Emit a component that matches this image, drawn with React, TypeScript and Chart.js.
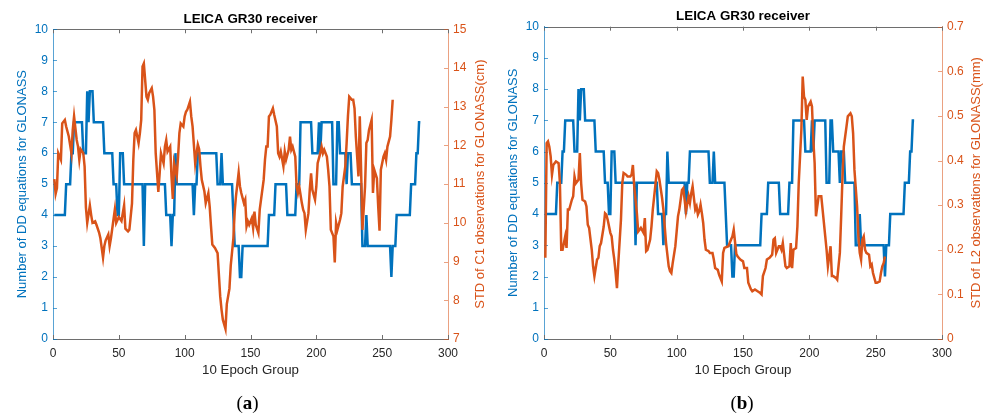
import React, { useEffect, useRef } from "react";
import { Chart, registerables } from "chart.js";

Chart.register(...registerables);

// ---------- data ----------
const ddEpoch = [
  1, 9, 10, 13, 14, 15, 16, 22, 23, 25,
  26, 27, 28, 30, 31, 38, 39, 45, 46, 48,
  49, 50, 51, 53, 54, 68, 69, 70, 85, 86,
  89, 90, 91, 92, 93, 94, 106, 107, 108, 109,
  110, 124, 125, 127, 128, 129, 136, 137, 138, 141,
  142, 143, 144, 163, 164, 168, 169, 177, 178, 184,
  185, 187, 188, 196, 197, 201, 202, 203, 204, 212,
  213, 215, 216, 217, 218, 222, 223, 224, 226, 227,
  234, 235, 237, 238, 239, 256, 257, 258, 260, 261,
  271, 272, 275, 276, 277, 278, 279,
];
const ddCount = [
  4, 4, 5, 5, 6, 6, 7, 7, 6, 6,
  8, 7, 8, 8, 7, 7, 6, 6, 5, 5,
  4, 4, 6, 6, 5, 5, 3, 5, 5, 4,
  4, 3, 4, 4, 6, 5, 5, 4, 5, 5,
  6, 6, 5, 5, 6, 5, 5, 4, 3, 3,
  2, 2, 3, 3, 4, 4, 5, 5, 4, 4,
  5, 5, 7, 7, 6, 6, 7, 6, 7, 7,
  5, 5, 7, 7, 6, 6, 5, 6, 6, 5,
  5, 3, 3, 4, 3, 3, 2, 3, 3, 4,
  4, 5, 5, 6, 6, 7, 7,
];

const c1Epoch = [
  1, 2, 3, 4, 6, 7, 9, 10, 12, 14,
  15, 16, 18, 19, 20, 21, 23, 24, 25, 26,
  28, 29, 30, 32, 33, 35, 36, 38, 39, 40,
  42, 43, 44, 46, 47, 48, 50, 52, 54, 55,
  57, 58, 60, 61, 62, 63, 65, 66, 67, 68,
  69, 71, 72, 73, 75, 76, 77, 78, 80, 81,
  82, 84, 85, 86, 87, 89, 90, 91, 92, 94,
  95, 96, 97, 99, 100, 101, 102, 104, 105, 106,
  108, 109, 110, 111, 112, 113, 115, 116, 118, 119,
  120, 121, 123, 125, 127, 128, 129, 131, 132, 134,
  135, 137, 138, 139, 141, 142, 143, 145, 146, 147,
  148, 149, 151, 152, 153, 154, 156, 157, 158, 160,
  161, 162, 163, 164, 165, 167, 168, 170, 171, 172,
  173, 175, 176, 177, 179, 180, 181, 182, 184, 185,
  186, 187, 189, 190, 191, 192, 194, 195, 196, 197,
  199, 200, 201, 203, 204, 205, 206, 208, 209, 210,
  211, 213, 214, 215, 216, 218, 219, 220, 222, 223,
  224, 225, 227, 228, 229, 230, 232, 233, 234, 235,
  237, 238, 239, 240, 242, 243, 244, 246, 247, 248,
  249, 251, 252, 253, 254, 256, 257, 258,
];
const c1Std = [
  11.13, 10.75, 10.9, 11.8, 11.63, 12.57, 12.66, 12.49, 12.23, 11.8,
  12.4, 12.75, 12.14, 11.97, 11.63, 11.9, 11.8, 11.46, 10.4, 10.0,
  10.45, 10.2, 10.0, 10.04, 9.95, 9.75, 9.6, 9.1, 9.4, 9.55,
  9.7, 9.4, 9.6, 10.1, 10.35, 10.0, 10.15, 10.05, 10.45, 9.85,
  9.78, 9.82, 10.5, 11.63, 12.32, 12.4, 12.06, 12.32, 12.66, 14.04,
  14.12, 13.26, 13.18, 13.35, 13.48, 13.26, 12.92, 11.8, 10.8, 11.28,
  11.8, 11.54, 11.97, 12.14, 11.84, 11.97, 11.2, 10.62, 11.54, 11.2,
  11.71, 12.32, 12.57, 12.49, 12.75, 12.87, 12.92, 13.13, 12.75, 12.49,
  11.54, 11.8, 12.02, 11.9, 11.46, 11.11, 10.81, 10.51, 10.77, 10.42,
  9.91, 9.44, 9.35, 9.22, 8.1, 7.76, 7.5, 7.26, 7.9, 8.3,
  8.9, 9.6, 10.3, 10.7, 11.3, 10.94, 10.77, 10.51, 10.6, 9.91,
  10.04, 9.95, 10.12, 9.87, 10.29, 9.95, 9.74, 10.34, 10.6, 11.11,
  11.63, 11.97, 11.97, 12.75, 12.79, 12.96, 12.79, 12.49, 11.8, 11.71,
  11.84, 11.46, 11.84, 11.63, 11.89, 12.23, 11.89, 11.97, 11.71, 10.94,
  10.77, 10.94, 10.51, 10.34, 10.25, 9.82, 10.25, 10.85, 11.28, 10.85,
  10.6, 10.94, 11.54, 11.8, 11.97, 11.8, 11.89, 11.71, 11.37, 10.94,
  9.82, 9.65, 8.98, 10.0, 9.82, 10.08, 10.25, 10.94, 11.46, 12.06,
  12.75, 13.26, 13.18, 13.18, 12.96, 12.23, 11.2, 12.75, 11.37, 9.82,
  10.94, 12.06, 12.14, 12.4, 12.66, 10.77, 11.37, 11.15, 10.42, 9.8,
  11.37, 11.71, 11.8, 11.63, 11.97, 12.23, 12.66, 13.18,
];

const l2Epoch = [
  1, 2, 3, 4, 5, 6, 7, 9, 11, 12,
  13, 14, 16, 17, 18, 19, 21, 22, 23, 24,
  26, 27, 28, 29, 31, 32, 33, 34, 36, 37,
  38, 40, 41, 42, 43, 45, 46, 47, 48, 50,
  51, 52, 53, 54, 55, 56, 58, 59, 60, 62,
  63, 65, 66, 67, 68, 70, 71, 72, 73, 75,
  76, 77, 78, 80, 81, 82, 84, 85, 86, 87,
  89, 90, 91, 92, 94, 95, 96, 97, 99, 100,
  101, 102, 104, 105, 106, 107, 109, 110, 111, 112,
  114, 115, 116, 117, 118, 119, 120, 121, 122, 124,
  125, 127, 128, 129, 131, 132, 134, 135, 136, 139,
  141, 142, 143, 145, 146, 148, 150, 151, 153, 154,
  156, 157, 159, 161, 163, 164, 165, 167, 168, 170,
  172, 173, 174, 175, 177, 178, 179, 180, 182, 183,
  185, 186, 187, 188, 190, 191, 192, 194, 195, 196,
  197, 198, 199, 201, 202, 203, 204, 205, 207, 209,
  210, 212, 213, 214, 216, 217, 218, 220, 221, 223,
  224, 225, 226, 228, 229, 231, 232, 233, 234, 236,
  237, 238, 239, 240, 241, 242, 243, 245, 246, 247,
  248, 250, 251, 253, 254, 255, 256, 257,
];
const l2Std = [
  0.182, 0.439, 0.443, 0.431, 0.41, 0.368, 0.39, 0.398, 0.394, 0.349,
  0.2, 0.2, 0.23, 0.204, 0.29, 0.29, 0.312, 0.32, 0.364, 0.349,
  0.357, 0.417, 0.349, 0.312, 0.308, 0.297, 0.256, 0.249, 0.2, 0.163,
  0.141, 0.178, 0.182, 0.208, 0.215, 0.252, 0.282, 0.279, 0.267, 0.238,
  0.23, 0.2, 0.178, 0.148, 0.114, 0.17, 0.267, 0.349, 0.372, 0.368,
  0.364, 0.364, 0.368, 0.39, 0.342, 0.282, 0.241, 0.245, 0.249, 0.238,
  0.271, 0.197, 0.2, 0.223, 0.252, 0.29, 0.346, 0.376, 0.372, 0.357,
  0.316, 0.29, 0.252, 0.215, 0.163, 0.152, 0.148, 0.17, 0.208, 0.241,
  0.275, 0.29, 0.334, 0.338, 0.312, 0.286, 0.32, 0.305, 0.327, 0.342,
  0.29, 0.297, 0.279, 0.286, 0.301, 0.282, 0.26, 0.223, 0.2, 0.197,
  0.193, 0.193, 0.178, 0.159, 0.155, 0.144, 0.129, 0.193, 0.204, 0.208,
  0.223, 0.23, 0.245, 0.19, 0.185, 0.178, 0.174, 0.159, 0.159, 0.126,
  0.111, 0.107, 0.111, 0.107, 0.103, 0.1, 0.141, 0.159, 0.178, 0.182,
  0.189, 0.223, 0.226, 0.193, 0.208, 0.208, 0.2, 0.215, 0.163, 0.159,
  0.163, 0.215, 0.159, 0.2, 0.204, 0.252, 0.349, 0.469, 0.588, 0.543,
  0.536, 0.491, 0.521, 0.532, 0.521, 0.446, 0.394, 0.275, 0.32, 0.32,
  0.29, 0.23, 0.2, 0.163, 0.208, 0.141, 0.141, 0.137, 0.133, 0.193,
  0.275, 0.364, 0.431, 0.476, 0.499, 0.506, 0.499, 0.461, 0.379, 0.297,
  0.23, 0.193, 0.178, 0.223, 0.23, 0.2, 0.193, 0.189, 0.163, 0.167,
  0.148, 0.126, 0.126, 0.129, 0.148, 0.163, 0.17, 0.185,
];

const chartTitle = "LEICA GR30 receiver";
const xTitle = "10 Epoch Group";
const leftTitle = "Number of DD equations for GLONASS";

// ---------- styles ----------
const BLUE = "#0072BD";
const ORANGE = "#D95319";
const BLUE_AXIS = "rgba(0,114,189,0.65)";
const ORANGE_AXIS = "rgba(217,83,25,0.55)";
const GRAY_AXIS = "#6e6e6e";
const TEXT = "#262626";
const FONT = '"Liberation Sans", Arial, Helvetica, sans-serif';

const pts = (xs: number[], ys: number[]) => xs.map((x, i) => ({ x, y: ys[i] }));

const axisDecor = {
  id: "axisDecor",
  beforeDatasetsDraw(chart: any) {
    const { ctx, chartArea: a, scales } = chart;
    const tl = 4;
    ctx.save();
    ctx.lineWidth = 1;
    ctx.strokeStyle = GRAY_AXIS;
    ctx.beginPath();
    const ty = Math.round(a.top) + 0.5;
    ctx.moveTo(a.left, ty);
    ctx.lineTo(a.right, ty);
    scales.x.ticks.forEach((t: any) => {
      const px = Math.round(scales.x.getPixelForValue(t.value)) + 0.5;
      ctx.moveTo(px, a.bottom);
      ctx.lineTo(px, a.bottom - tl);
      ctx.moveTo(px, a.top);
      ctx.lineTo(px, a.top + tl);
    });
    ctx.stroke();
    ctx.strokeStyle = BLUE_AXIS;
    ctx.beginPath();
    scales.y.ticks.forEach((t: any) => {
      const py = Math.round(scales.y.getPixelForValue(t.value)) + 0.5;
      ctx.moveTo(a.left, py);
      ctx.lineTo(a.left + tl, py);
    });
    ctx.stroke();
    ctx.strokeStyle = ORANGE_AXIS;
    ctx.beginPath();
    scales.y2.ticks.forEach((t: any) => {
      const py = Math.round(scales.y2.getPixelForValue(t.value)) + 0.5;
      ctx.moveTo(a.right, py);
      ctx.lineTo(a.right - tl, py);
    });
    ctx.stroke();
    ctx.restore();
  },
  afterDraw(chart: any, _args: any, o: any) {
    const { ctx, chartArea: a } = chart;
    ctx.save();
    ctx.translate(o.titleX, (a.top + a.bottom) / 2);
    ctx.rotate(-Math.PI / 2);
    ctx.textAlign = "center";
    ctx.textBaseline = "middle";
    ctx.fillStyle = ORANGE;
    ctx.font = `13px ${FONT}`;
    ctx.fillText(o.text, 0, 0);
    ctx.restore();
  },
};

type PanelProps = {
  left: number;
  width: number;
  stdX: number[];
  stdY: number[];
  rMin: number;
  rMax: number;
  rStep: number;
  rightTitle: string;
  rightTitleX: number;
  leftW: number;
  rightW: number;
  titleTop: number;
  titleBottom: number;
  leftTitlePad: number;
};

function Panel(p: PanelProps) {
  const ref = useRef<HTMLCanvasElement | null>(null);
  useEffect(() => {
    if (!ref.current) return;
    const chart = new Chart(ref.current, {
      type: "line",
      data: {
        datasets: [
          {
            data: pts(p.stdX, p.stdY),
            yAxisID: "y2",
            borderColor: ORANGE,
            borderWidth: 2.5,
            pointRadius: 0,
            tension: 0,
            order: 0,
          },
          {
            data: pts(ddEpoch, ddCount),
            yAxisID: "y",
            borderColor: BLUE,
            borderWidth: 2.5,
            pointRadius: 0,
            tension: 0,
            order: 1,
          },
        ],
      },
      options: {
        responsive: false,
        animation: false,
        events: [],
        layout: { padding: 0 },
        plugins: {
          legend: { display: false },
          tooltip: { enabled: false },
          title: {
            display: true,
            text: chartTitle,
            color: "#000",
            font: { family: FONT, size: 13.4, weight: "bold" },
            padding: { top: p.titleTop, bottom: p.titleBottom },
          },
          axisDecor: { text: p.rightTitle, titleX: p.rightTitleX },
        } as any,
        scales: {
          x: {
            type: "linear",
            position: "bottom",
            min: 0,
            max: 300,
            grid: { display: false, drawTicks: false },
            border: { color: GRAY_AXIS },
            ticks: { stepSize: 50, color: TEXT, font: { family: FONT, size: 12 }, padding: 7, maxRotation: 0 },
            title: {
              display: true,
              text: xTitle,
              color: TEXT,
              font: { family: FONT, size: 13.3 },
              padding: { top: 0, bottom: 41 },
            },
            afterFit: (s: any) => {
              s.height = 80;
            },
          },
          y: {
            type: "linear",
            position: "left",
            min: 0,
            max: 10,
            grid: { display: false, drawTicks: false },
            border: { color: BLUE_AXIS },
            ticks: { stepSize: 1, color: BLUE, font: { family: FONT, size: 12 }, padding: 5 },
            title: {
              display: true,
              text: leftTitle,
              color: BLUE,
              font: { family: FONT, size: 13 },
              padding: { top: p.leftTitlePad, bottom: 0 },
            },
            afterFit: (s: any) => {
              s.width = p.leftW;
            },
          },
          y2: {
            type: "linear",
            position: "right",
            min: p.rMin,
            max: p.rMax,
            grid: { display: false, drawTicks: false },
            border: { color: ORANGE_AXIS },
            ticks: { stepSize: p.rStep, color: ORANGE, font: { family: FONT, size: 12 }, padding: 5 },
            afterFit: (s: any) => {
              s.width = p.rightW;
            },
          },
        },
      } as any,
      plugins: [axisDecor as any],
    });
    return () => chart.destroy();
  }, []);
  return (
    <canvas
      ref={ref}
      width={p.width}
      height={419}
      style={{ position: "absolute", left: p.left, top: 0, width: p.width, height: 419 }}
    />
  );
}

const captionStyle: React.CSSProperties = {
  position: "absolute",
  top: 393,
  width: 100,
  textAlign: "center",
  fontFamily: '"Liberation Serif", "Times New Roman", serif',
  fontSize: 19,
  lineHeight: "19px",
  color: "#000",
};

export default function App() {
  return (
    <div style={{ position: "absolute", left: 0, top: 0, width: 991, height: 419, background: "#fff", overflow: "hidden" }}>
      <Panel
        left={0}
        width={501}
        stdX={c1Epoch}
        stdY={c1Std}
        rMin={7}
        rMax={15}
        rStep={1}
        rightTitle="STD of C1 observations for GLONASS(cm)"
        rightTitleX={480}
        leftW={53}
        rightW={53}
        titleTop={11.5}
        titleBottom={1.7}
        leftTitlePad={15}
      />
      <Panel
        left={495}
        width={496}
        stdX={l2Epoch}
        stdY={l2Std}
        rMin={0}
        rMax={0.7}
        rStep={0.1}
        rightTitle="STD of L2 observations for GLONASS(mm)"
        rightTitleX={481}
        leftW={49}
        rightW={49}
        titleTop={8.2}
        titleBottom={2.4}
        leftTitlePad={10.2}
      />
      <div style={{ ...captionStyle, left: 197.5 }}>
        (<b>a</b>)
      </div>
      <div style={{ ...captionStyle, left: 692 }}>
        (<b>b</b>)
      </div>
    </div>
  );
}
